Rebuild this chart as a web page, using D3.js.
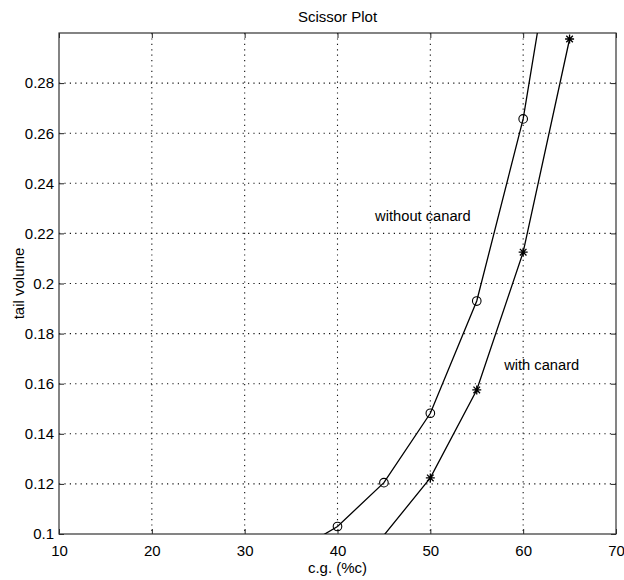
<!DOCTYPE html>
<html>
<head>
<meta charset="utf-8">
<script src="https://cdn.jsdelivr.net/npm/d3@7"></script>
<style>
  body { margin: 0; background: #fff; }
  svg { display: block; font-family: 'Liberation Sans', Arial, sans-serif; }
  .tick-label { font-size: 15px; fill: #000; }
  .grid line { stroke: #111; stroke-width: 1.1; stroke-dasharray: 1.2 4.2; }
</style>
</head>
<body>
<svg width="624" height="580"></svg>
<script>
// c.g. positions (%c) and tail volume for each configuration
const CG_NO_CANARD = [35, 40, 45, 50, 55, 60, 65]
const TAIL_NO_CANARD = [0.092, 0.103, 0.1205, 0.1482, 0.193, 0.2657, 0.378]
const CG_CANARD = [45, 50, 55, 60, 65]
const TAIL_CANARD = [0.0995, 0.1224, 0.1575, 0.2125, 0.2976]

const X_TICKS = [10, 20, 30, 40, 50, 60, 70]
const Y_TICKS = [0.1, 0.12, 0.14, 0.16, 0.18, 0.2, 0.22, 0.24, 0.26, 0.28]

const margin = { top: 33, right: 8, bottom: 46, left: 59 }
const svg = d3.select('svg')
const width = +svg.attr('width') - margin.left - margin.right
const height = +svg.attr('height') - margin.top - margin.bottom

const x = d3.scaleLinear().domain([10, 70]).range([0, width])
const y = d3.scaleLinear().domain([0.1, 0.3]).range([height, 0])

const g = svg.append('g')
  .attr('transform', `translate(${margin.left},${margin.top})`)

svg.append('defs').append('clipPath')
  .attr('id', 'plot-clip')
  .append('rect')
  .attr('width', width)
  .attr('height', height)

// dotted grid
const grid = g.append('g').attr('class', 'grid')
grid.selectAll('.vx')
  .data(X_TICKS.slice(1, -1))
  .enter().append('line')
  .attr('x1', d => x(d)).attr('x2', d => x(d))
  .attr('y1', 0).attr('y2', height)
grid.selectAll('.hy')
  .data(Y_TICKS.slice(1))
  .enter().append('line')
  .attr('x1', 0).attr('x2', width)
  .attr('y1', d => y(d)).attr('y2', d => y(d))

// axes with inward ticks, mirrored on top and right
const fmt = d => String(+d.toFixed(2))
const tick = 5

g.append('g')
  .attr('transform', `translate(0,${height})`)
  .call(d3.axisBottom(x).tickValues(X_TICKS).tickSize(-tick).tickPadding(11).tickFormat(d3.format('d')))
g.append('g')
  .call(d3.axisTop(x).tickValues(X_TICKS).tickSize(-tick).tickFormat(''))
g.append('g')
  .call(d3.axisLeft(y).tickValues(Y_TICKS).tickSize(-tick).tickPadding(5).tickFormat(fmt))
g.append('g')
  .attr('transform', `translate(${width},0)`)
  .call(d3.axisRight(y).tickValues(Y_TICKS).tickSize(-tick).tickFormat(''))

g.selectAll('.domain').remove()
g.selectAll('.tick line').attr('stroke', '#222')
g.selectAll('.tick text')
  .attr('class', 'tick-label')
  .attr('font-family', null)
  .attr('font-size', null)

g.append('rect')
  .attr('width', width)
  .attr('height', height)
  .attr('fill', 'none')
  .attr('stroke', '#333')
  .attr('stroke-width', 1.2)

// curves
const line = d3.line().x(d => x(d[0])).y(d => y(d[1]))
const noCanard = CG_NO_CANARD.map((c, i) => [c, TAIL_NO_CANARD[i]])
const canard = CG_CANARD.map((c, i) => [c, TAIL_CANARD[i]])
const inside = d => d[0] >= 10 && d[0] <= 70 && d[1] >= 0.1 && d[1] <= 0.3

const plot = g.append('g').attr('clip-path', 'url(#plot-clip)')

plot.append('path')
  .datum(noCanard)
  .attr('d', line)
  .attr('fill', 'none')
  .attr('stroke', '#000')
  .attr('stroke-width', 1.3)

plot.append('path')
  .datum(canard)
  .attr('d', line)
  .attr('fill', 'none')
  .attr('stroke', '#000')
  .attr('stroke-width', 1.3)

g.selectAll('.circle-mark')
  .data(noCanard.filter(inside))
  .enter().append('circle')
  .attr('cx', d => x(d[0]))
  .attr('cy', d => y(d[1]))
  .attr('r', 4.3)
  .attr('fill', 'none')
  .attr('stroke', '#000')
  .attr('stroke-width', 1.1)

const star = 'M-4.5,0H4.5M0,-4.5V4.5M-3.3,-3.3L3.3,3.3M-3.3,3.3L3.3,-3.3'
g.selectAll('.star-mark')
  .data(canard.filter(inside))
  .enter().append('path')
  .attr('transform', d => `translate(${x(d[0])},${y(d[1])})`)
  .attr('d', star)
  .attr('fill', 'none')
  .attr('stroke', '#000')
  .attr('stroke-width', 1.3)

// annotations
g.append('text')
  .attr('x', x(44.05))
  .attr('y', y(0.2248))
  .attr('font-size', 14.7)
  .text('without canard')

g.append('text')
  .attr('x', x(57.95))
  .attr('y', y(0.1655))
  .attr('font-size', 14.7)
  .text('with canard')

// titles
svg.append('text')
  .attr('x', margin.left + width / 2)
  .attr('y', 22)
  .attr('text-anchor', 'middle')
  .attr('font-size', 15)
  .text('Scissor Plot')

svg.append('text')
  .attr('x', margin.left + width / 2)
  .attr('y', 573)
  .attr('text-anchor', 'middle')
  .attr('font-size', 15)
  .text('c.g. (%c)')

svg.append('text')
  .attr('transform', `translate(24,${margin.top + height / 2}) rotate(-90)`)
  .attr('text-anchor', 'middle')
  .attr('font-size', 15)
  .text('tail volume')
</script>
</body>
</html>
